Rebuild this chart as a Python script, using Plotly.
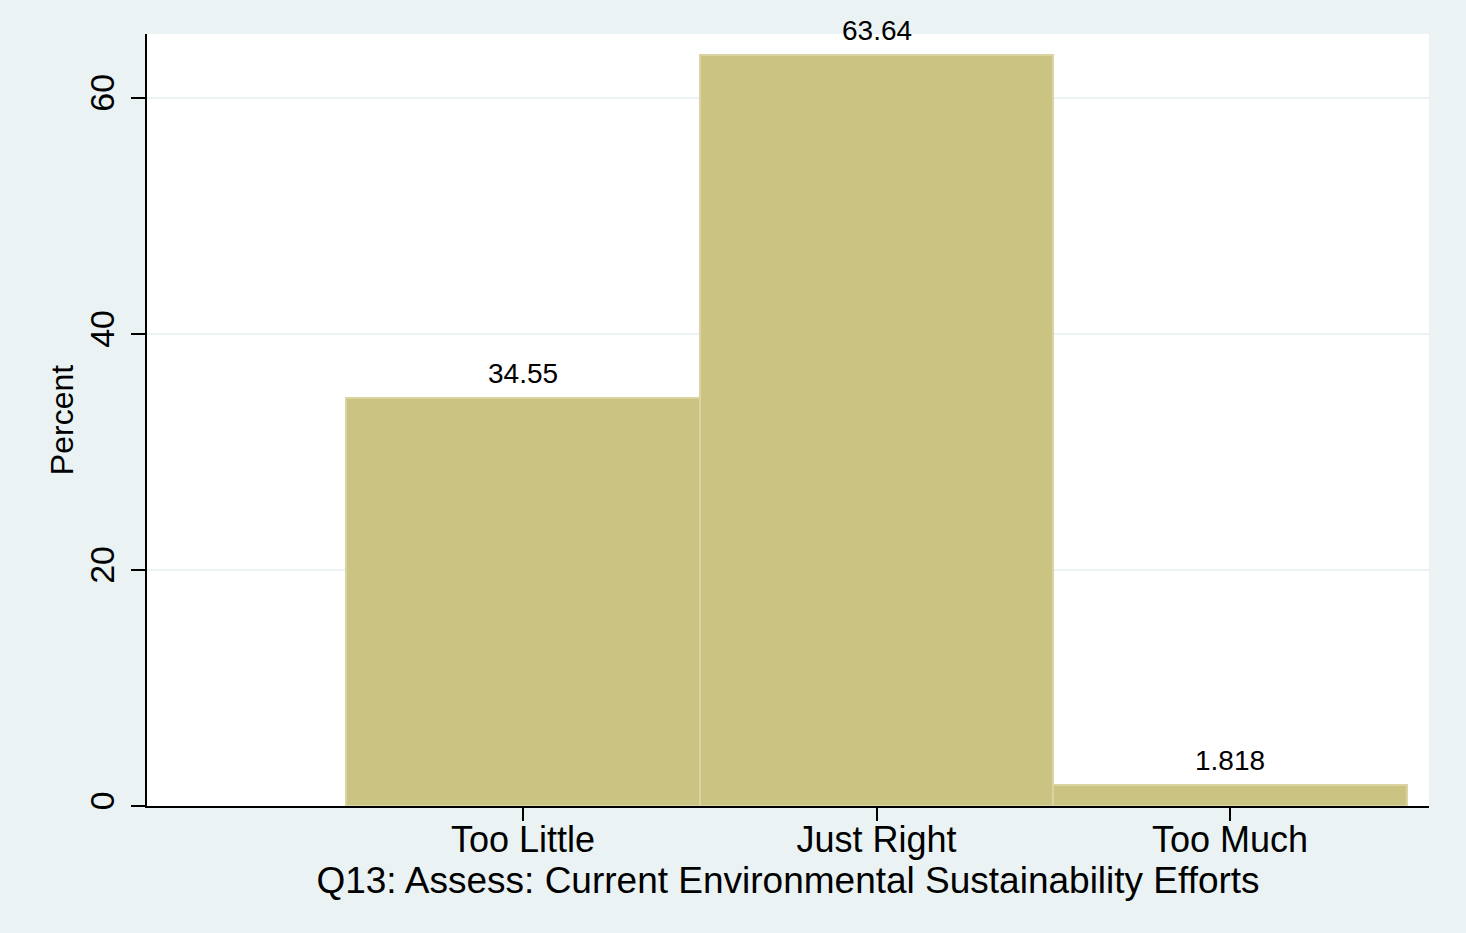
import plotly.graph_objects as go

categories = ["Too Little", "Just Right", "Too Much"]
positions = [1, 2, 3]
percent = [34.55, 63.64, 1.818]
value_labels = ["34.55", "63.64", "1.818"]
y_ticks = [0, 20, 40, 60]

BG = "#eaf2f3"
FONT = "Liberation Sans, Arial, Helvetica, sans-serif"

fig = go.Figure()
fig.add_trace(go.Bar(
    x=positions,
    y=percent,
    width=1,
    marker=dict(color="#cbc382", line=dict(color="#d9d4a2", width=2)),
    hoverinfo="skip",
))

for xv, yv, lab in zip(positions, percent, value_labels):
    fig.add_annotation(
        x=xv, y=yv, text=lab, showarrow=False,
        xanchor="center", yanchor="bottom", yshift=7,
        font=dict(size=28, color="black", family=FONT),
    )

fig.update_layout(
    width=1466,
    height=933,
    paper_bgcolor=BG,
    plot_bgcolor="white",
    margin=dict(l=147, r=37, t=34, b=127),
    showlegend=False,
    bargap=0,
    font=dict(family=FONT, color="black"),
    xaxis=dict(
        range=[-0.064, 3.563],
        tickmode="array",
        tickvals=positions,
        ticktext=categories,
        ticks="outside",
        ticklen=13,
        tickwidth=1.5,
        tickcolor="black",
        tickfont=dict(size=36),
        ticklabelstandoff=-12,
        showline=True,
        linecolor="black",
        linewidth=2,
        showgrid=False,
        zeroline=False,
        title=dict(text="Q13: Assess: Current Environmental Sustainability Efforts",
                   font=dict(size=37), standoff=0),
    ),
    yaxis=dict(
        range=[0, 65.42],
        tickmode="array",
        tickvals=y_ticks,
        ticktext=[str(v) for v in y_ticks],
        tickangle=-90,
        ticks="outside",
        ticklen=14,
        tickwidth=1.5,
        tickcolor="black",
        tickfont=dict(size=34),
        ticklabelstandoff=3,
        showline=True,
        linecolor="black",
        linewidth=2,
        showgrid=True,
        gridcolor=BG,
        gridwidth=2,
        zeroline=False,
        title=dict(text="Percent", font=dict(size=32), standoff=0),
    ),
)

fig.write_html(
    "out.html",
    config={"displayModeBar": False},
    post_script="document.body.style.margin='0px';document.body.style.background='#eaf2f3';",
)
